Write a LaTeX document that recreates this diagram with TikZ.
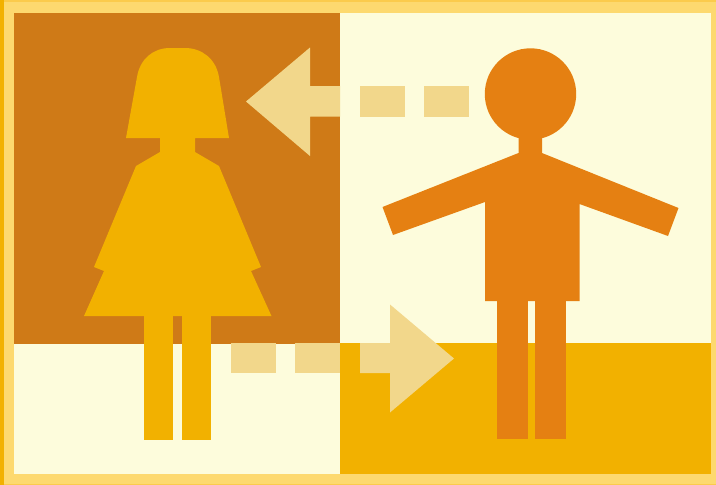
\documentclass[tikz,border=0pt]{standalone}
\definecolor{frameY}{HTML}{FDD96F}
\definecolor{edgeY}{HTML}{F2B100}
\definecolor{edgeL}{HTML}{FBCB4C}
\definecolor{brownO}{HTML}{CF7A17}
\definecolor{creamY}{HTML}{FDFCDC}
\definecolor{goldY}{HTML}{F2B100}
\definecolor{manO}{HTML}{E58012}
\definecolor{arrowY}{HTML}{F2D78B}
\tikzset{
  woman/.style={fill=goldY,draw=none},
  man/.style={fill=manO,draw=none},
  flow/.style={fill=arrowY,draw=none}
}
\begin{document}
\begin{tikzpicture}[x=1pt,y=-1pt]
\useasboundingbox (0,0) rectangle (716,485);
\fill[frameY] (0,0) rectangle (716,485);
\fill[edgeL] (0,0) rectangle (716,2);
\fill[edgeL] (0,483.5) rectangle (716,485);
\fill[edgeY] (0,0) rectangle (4,485);
% panels
\fill[brownO] (14,13) rectangle (340,344);
\fill[creamY] (340,13) rectangle (711,343);
\fill[creamY] (14,344) rectangle (340,474);
\fill[goldY] (340,343) rectangle (711,474);
% woman
\fill[woman] (170,48) -- (185,48) .. controls (202,48) and (216,59) .. (219,77)
  -- (229,138) -- (195,138) -- (195,152) -- (219,166) -- (261,267) -- (251,271)
  -- (271.5,316) -- (84,316) -- (104,271) -- (94,267) -- (136,166) -- (160,152)
  -- (160,138) -- (126,138) -- (137,77) .. controls (140,59) and (153,48) .. (170,48) -- cycle;
\fill[woman] (144,316) rectangle (173,440);
\fill[woman] (182,316) rectangle (211,440);
% man
\fill[man] (530.5,94) circle [radius=45.7];
\fill[man] (518.5,130) -- (542,130) -- (542,153) -- (678.5,208) -- (668,236) -- (579.5,204)
  -- (579.5,301) -- (485,301) -- (485,202) -- (393,235) -- (382.5,207) -- (518.5,153) -- cycle;
\fill[man] (497,301) rectangle (528,439);
\fill[man] (535,301) rectangle (566,439);
% arrow to the woman
\fill[flow] (246,101.5) -- (310,47.5) -- (310,86) -- (340,86) -- (340,116.5) -- (310,116.5) -- (310,156) -- cycle;
\fill[flow] (360,86) rectangle (405,116.5);
\fill[flow] (424,86) rectangle (469,116.5);
% arrow to the man
\fill[flow] (231,343) rectangle (276,373);
\fill[flow] (295,343) rectangle (340,373);
\fill[flow] (360,343) -- (390,343) -- (390,304.5) -- (454,358.5) -- (390,412.5) -- (390,373) -- (360,373) -- cycle;
\end{tikzpicture}
\end{document}
